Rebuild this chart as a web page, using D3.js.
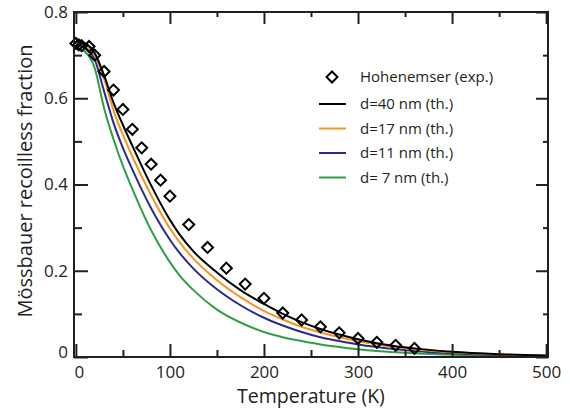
<!DOCTYPE html>
<html>
<head>
<meta charset="utf-8">
<script src="https://cdn.jsdelivr.net/npm/d3@7"></script>
<style>
  body { margin: 0; background: #fff; }
  text { font-family: "Open Sans", "Noto Sans", sans-serif; fill: #231f20; }
</style>
</head>
<body>
<div id="chart"></div>
<script>
// Hohenemser measurements (T in K, recoilless fraction)
const expT = [0, 3, 6, 14, 20, 30, 40, 50, 60, 70, 80, 90, 100, 120, 140, 160, 180, 200, 220, 240, 260, 280, 300, 320, 340, 360];
const expF = [0.727, 0.724, 0.722, 0.72, 0.70, 0.662, 0.619, 0.574, 0.528, 0.485, 0.447, 0.41, 0.373, 0.307, 0.254, 0.206, 0.169, 0.136, 0.102, 0.086, 0.07, 0.056, 0.043, 0.034, 0.027, 0.02];

// theory curves
const thT = [0, 10, 20, 30, 40, 50, 60, 80, 100, 110, 125, 150, 175, 200, 220, 240, 260, 280, 300, 320, 340, 360, 400, 450, 500];
const d40 = [0.733, 0.727, 0.705, 0.653, 0.59, 0.538, 0.49, 0.398, 0.318, 0.285, 0.245, 0.196, 0.155, 0.123, 0.10, 0.081, 0.065, 0.052, 0.041, 0.032, 0.025, 0.02, 0.012, 0.0065, 0.0035];
const d17 = [0.730, 0.724, 0.70, 0.645, 0.572, 0.515, 0.465, 0.375, 0.298, 0.267, 0.228, 0.178, 0.139, 0.107, 0.087, 0.07, 0.057, 0.046, 0.037, 0.029, 0.023, 0.018, 0.011, 0.006, 0.003];
const d11 = [0.724, 0.717, 0.69, 0.616, 0.543, 0.485, 0.435, 0.345, 0.272, 0.242, 0.205, 0.157, 0.12, 0.091, 0.073, 0.058, 0.046, 0.037, 0.029, 0.023, 0.018, 0.014, 0.0085, 0.0045, 0.0025];
const d7 = [0.717, 0.707, 0.67, 0.577, 0.505, 0.443, 0.39, 0.294, 0.22, 0.19, 0.155, 0.11, 0.08, 0.058, 0.046, 0.037, 0.029, 0.023, 0.018, 0.014, 0.011, 0.0085, 0.005, 0.0028, 0.0016];

const seriesNames = ["d=40 nm (th.)", "d=17 nm (th.)", "d=11 nm (th.)", "d= 7 nm (th.)"];
const seriesColors = ["#000000", "#f7941e", "#2b2a8c", "#2f9e44"];
const xTicks = [0, 100, 200, 300, 400, 500];
const xMinor = [50, 150, 250, 350, 450];
const yTicks = [0, 0.2, 0.4, 0.6, 0.8];
const yMinor = [0.1, 0.3, 0.5, 0.7];

const width = 570, height = 414;
const mLeft = 74, mRight = 548, mTop = 12, mBottom = 357;

const svg = d3.select("#chart").append("svg")
  .attr("width", width)
  .attr("height", height);

const x = d3.scaleLinear().domain([-2, 502]).range([mLeft, mRight]);
const y = d3.scaleLinear().domain([0, 0.8]).range([mBottom, mTop]);

// curves
const line = d3.line()
  .x(d => x(d[0]))
  .y(d => y(d[1]))
  .curve(d3.curveMonotoneX);

const theory = [d40, d17, d11, d7];
// draw back to front so black sits on top
for (let i = theory.length - 1; i >= 0; i--) {
  svg.append("path")
    .datum(thT.map((t, j) => [t, theory[i][j]]))
    .attr("fill", "none")
    .attr("stroke", seriesColors[i])
    .attr("stroke-width", 2)
    .attr("d", line);
}

// diamonds
const diamond = d3.symbol().type(d3.symbolSquare).size(60);
svg.append("g")
  .selectAll("path")
  .data(expT.map((t, i) => [t, expF[i]]))
  .join("path")
  .attr("transform", d => `translate(${x(d[0])},${y(d[1])}) rotate(45)`)
  .attr("d", diamond)
  .attr("fill", "none")
  .attr("stroke", "#000")
  .attr("stroke-width", 2);

// axes
function styleAxis(g) {
  g.select(".domain").remove();
  g.selectAll(".tick line").attr("stroke", "#231f20").attr("stroke-width", 2);
  g.selectAll("text").attr("font-size", 17).attr("fill", "#231f20");
}

svg.append("g").attr("transform", `translate(0,${mBottom})`)
  .call(d3.axisBottom(x).tickValues(xTicks).tickSize(-13).tickPadding(9).tickFormat(d3.format("d")))
  .call(styleAxis)
  .call(g => g.selectAll("text").filter(d => d === 0).attr("dx", 3));
svg.append("g").attr("transform", `translate(0,${mBottom})`)
  .call(d3.axisBottom(x).tickValues(xMinor).tickSize(-7).tickFormat(""))
  .call(styleAxis);
svg.append("g").attr("transform", `translate(0,${mTop})`)
  .call(d3.axisTop(x).tickValues(xTicks).tickSize(-12).tickFormat(""))
  .call(styleAxis);
svg.append("g").attr("transform", `translate(0,${mTop})`)
  .call(d3.axisTop(x).tickValues(xMinor).tickSize(-5).tickFormat(""))
  .call(styleAxis);

svg.append("g").attr("transform", `translate(${mLeft},0)`)
  .call(d3.axisLeft(y).tickValues(yTicks).tickSize(-14).tickPadding(6).tickFormat(d => d === 0 ? "0" : d3.format(".1f")(d)))
  .call(styleAxis)
  .call(g => g.selectAll("text").filter(d => d === 0).attr("dy", "0.05em"));
svg.append("g").attr("transform", `translate(${mLeft},0)`)
  .call(d3.axisLeft(y).tickValues(yMinor).tickSize(-8).tickFormat(""))
  .call(styleAxis);
svg.append("g").attr("transform", `translate(${mRight},0)`)
  .call(d3.axisRight(y).tickValues(yTicks).tickSize(-12).tickFormat(""))
  .call(styleAxis);
svg.append("g").attr("transform", `translate(${mRight},0)`)
  .call(d3.axisRight(y).tickValues(yMinor).tickSize(-5).tickFormat(""))
  .call(styleAxis);

// frame
svg.append("rect")
  .attr("x", mLeft).attr("y", mTop)
  .attr("width", mRight - mLeft).attr("height", mBottom - mTop)
  .attr("fill", "none")
  .attr("stroke", "#231f20")
  .attr("stroke-width", 2);

// axis titles
svg.append("text")
  .attr("x", (mLeft + mRight) / 2)
  .attr("y", 403)
  .attr("text-anchor", "middle")
  .attr("font-size", 19.5)
  .text("Temperature (K)");

svg.append("text")
  .attr("transform", "translate(32,181) rotate(-90)")
  .attr("text-anchor", "middle")
  .attr("font-size", 20)
  .text("Mössbauer recoilless fraction");

// legend
const legend = svg.append("g");
legend.append("path")
  .attr("transform", "translate(332,77) rotate(45)")
  .attr("d", diamond)
  .attr("fill", "none")
  .attr("stroke", "#000")
  .attr("stroke-width", 2);
legend.append("text")
  .attr("x", 360).attr("y", 77)
  .attr("dy", "0.35em")
  .attr("font-size", 15)
  .text("Hohenemser (exp.)");

seriesNames.forEach((name, i) => {
  const ly = 104 + i * 24.5;
  legend.append("line")
    .attr("x1", 319).attr("x2", 346)
    .attr("y1", ly).attr("y2", ly)
    .attr("stroke", seriesColors[i])
    .attr("stroke-width", 2);
  legend.append("text")
    .attr("x", 360).attr("y", ly)
    .attr("dy", "0.35em")
    .attr("font-size", 15)
    .text(name);
});
</script>
</body>
</html>
